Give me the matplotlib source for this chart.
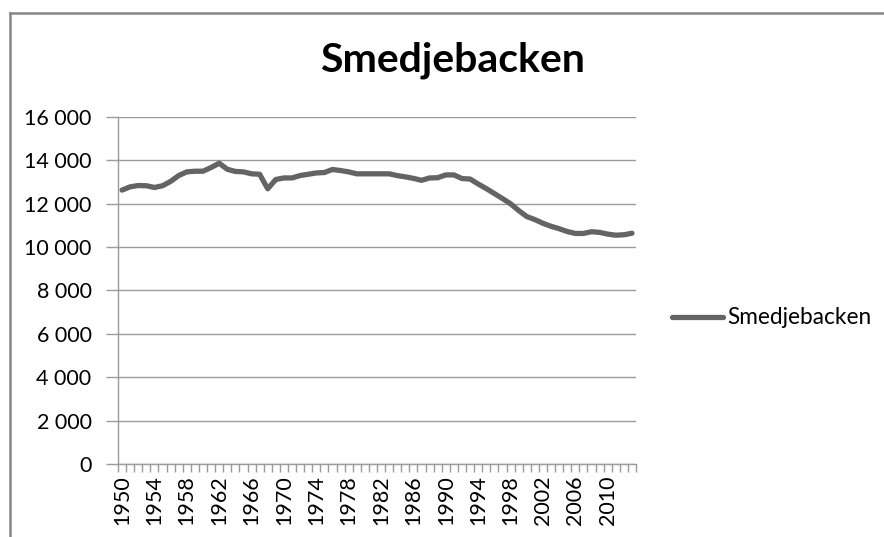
import matplotlib
matplotlib.use("Agg")
import matplotlib.pyplot as plt
from matplotlib.lines import Line2D
from matplotlib.ticker import FixedLocator, FuncFormatter

title = "Smedjebacken"
series_name = "Smedjebacken"
years = list(range(1950, 2014))
population = [
    12630, 12780, 12840, 12830, 12750, 12830, 13030, 13300, 13470, 13500,
    13500, 13670, 13870, 13590, 13490, 13470, 13380, 13360, 12690, 13120,
    13190, 13190, 13300, 13360, 13420, 13440, 13580, 13530, 13470, 13380,
    13380, 13380, 13380, 13380, 13300, 13240, 13170, 13080, 13190, 13200,
    13330, 13330, 13160, 13140, 12910, 12700, 12470, 12240, 12000, 11690,
    11410, 11270, 11100, 10960, 10850, 10720, 10630, 10630, 10710, 10680,
    10600, 10550, 10570, 10640,
]
y_ticks = [0, 2000, 4000, 6000, 8000, 10000, 12000, 14000, 16000]
x_label_years = list(range(1950, 2011, 4))

W, H = 884, 537
fig = plt.figure(figsize=(W / 100, H / 100), dpi=100)
plt.rcParams['font.family'] = ['Lato', 'DejaVu Sans']

ax = fig.add_axes([118 / W, 1 - 464 / H, (636 - 118) / W, (464 - 117) / H])

idx = [y - years[0] for y in years]
ax.plot(idx, population, color="#646464", lw=3.8, solid_capstyle="round",
        solid_joinstyle="round", label=series_name, zorder=3)

ax.set_xlim(-0.5, len(years) - 0.5)
ax.set_ylim(0, 16000)

grid_c = "#9a9a9a"
ax.set_yticks(y_ticks)
ax.yaxis.set_major_formatter(FuncFormatter(lambda v, p: f"{int(v):,}".replace(",", " ")))
ax.yaxis.grid(True, color=grid_c, lw=1.0)
ax.set_axisbelow(True)

ax.xaxis.set_major_locator(FixedLocator([y - years[0] for y in x_label_years]))
ax.set_xticklabels([str(y) for y in x_label_years], rotation=90, va="top", ha="center")
ax.xaxis.set_minor_locator(FixedLocator([i - 0.5 for i in range(len(years) + 1)]))
ax.tick_params(axis="x", which="major", length=0, pad=8, labelsize=15.5, colors="#000000")
ax.tick_params(axis="x", which="minor", length=6, width=1, color=grid_c, direction="out")
ax.tick_params(axis="y", which="major", length=9, width=1, color=grid_c, direction="out",
               pad=10, labelsize=15.5)

for s in ["top", "right"]:
    ax.spines[s].set_visible(False)
for s in ["left", "bottom"]:
    ax.spines[s].set_color(grid_c)
    ax.spines[s].set_linewidth(1.0)

fig.text(453 / W, 1 - 60 / H, title, ha="center", va="center", fontsize=29.5, fontweight="bold")

leg = fig.legend(loc="center left", bbox_to_anchor=(672 / W, 1 - 318 / H), frameon=False,
                 fontsize=16.3, handlelength=2.25, handletextpad=0.2, borderpad=0, borderaxespad=0)

frame_c = "#868686"
fig.add_artist(Line2D([10 / W, 1], [1 - 13 / H, 1 - 13 / H], transform=fig.transFigure, color=frame_c, lw=1.8))
fig.add_artist(Line2D([10 / W, 10 / W], [0, 1 - 13 / H], transform=fig.transFigure, color=frame_c, lw=1.8))

fig.savefig("out.png", dpi=100)
